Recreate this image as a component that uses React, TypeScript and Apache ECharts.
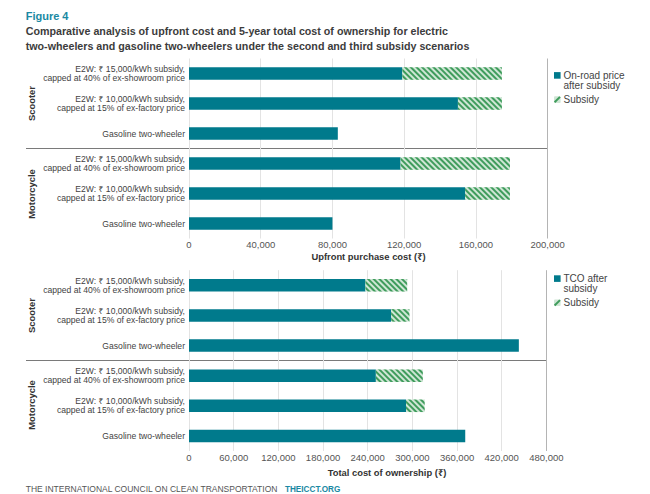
import React, { useEffect, useRef } from "react";
import * as echarts from "echarts";

const categoryLabels = [
  "E2W: ₹ 15,000/kWh subsidy,\ncapped at 40% of ex-showroom price",
  "E2W: ₹ 10,000/kWh subsidy,\ncapped at 15% of ex-factory price",
  "Gasoline two-wheeler",
  "E2W: ₹ 15,000/kWh subsidy,\ncapped at 40% of ex-showroom price",
  "E2W: ₹ 10,000/kWh subsidy,\ncapped at 15% of ex-factory price",
  "Gasoline two-wheeler",
];
const categoryKeys = ["s15", "s10", "sg", "m15", "m10", "mg"];
const groupLabels = ["Scooter", "Motorcycle"];

const upfrontAfter = [119000, 150000, 83000, 118000, 154000, 80000];
const upfrontSubsidy = [55500, 24500, 0, 61000, 25000, 0];
const tcoAfter = [237000, 271500, 443000, 251000, 291500, 371000];
const tcoSubsidy = [56000, 24500, 0, 63000, 25000, 0];

const upfrontTicks = { min: 0, max: 200000, interval: 40000 };
const tcoTicks = { min: 0, max: 480000, interval: 60000 };

const FONT = "'Liberation Sans', Arial, 'Noto Sans', 'DejaVu Sans', sans-serif";
const TEAL = "#007a8c";
const HATCH_BG = "#cfe6d5";
const HATCH_FG = "#3f9c5c";
const GRID_LIGHT = "#e3e3e3";
const GRID_DARK = "#b4b4b4";

const fmt = (v: number) => v.toLocaleString("en-US");

function splitColors(t: { min: number; max: number; interval: number }) {
  const n = Math.round((t.max - t.min) / t.interval) + 1;
  const arr: string[] = [];
  for (let i = 0; i < n; i++) arr.push(i === n - 1 ? GRID_DARK : GRID_LIGHT);
  return arr;
}

const hatchDecal = {
  symbol: "rect",
  symbolSize: 1,
  dashArrayX: [1, 0],
  dashArrayY: [1.2, 1.1],
  rotation: Math.PI / 4,
  color: HATCH_FG,
  backgroundColor: HATCH_BG,
};

export default function App() {
  const ref = useRef<HTMLDivElement>(null);
  useEffect(() => {
    document.body.style.margin = "0";
    const chart = echarts.init(ref.current!, null, { renderer: "svg" });

    const xAxisBase = (t: any, gridIndex: number) => ({
      type: "value",
      gridIndex,
      min: t.min,
      max: t.max,
      interval: t.interval,
      axisLine: { show: false },
      axisTick: { show: false },
      axisLabel: {
        margin: 1,
        fontSize: 9.5,
        color: "#555",
        fontFamily: FONT,
        formatter: (v: number) => fmt(v),
      },
      splitLine: { show: true, lineStyle: { color: splitColors(t), width: 1 } },
    });

    const yAxisBase = (gridIndex: number) => ({
      type: "category",
      gridIndex,
      inverse: true,
      data: categoryKeys,
      axisLine: { show: false },
      axisTick: { show: false },
      axisLabel: {
        margin: 4,
        fontSize: 8.6,
        lineHeight: 9,
        color: "#3f3f3f",
        fontFamily: FONT,
        align: "right",
        formatter: (_v: string, i: number) => categoryLabels[i],
      },
    });

    const textEl = (
      text: string,
      x: number,
      y: number,
      opts: any = {},
      extra: any = {}
    ) => ({
      type: "text",
      x,
      y,
      ...extra,
      style: {
        text,
        fontFamily: FONT,
        fontSize: 9,
        fill: "#333",
        align: "left",
        verticalAlign: "middle",
        ...opts,
      },
    });

    const legend = (label1: string, label2: string, y: number) => [
      { type: "rect", shape: { x: 554, y: y - 3.2, width: 6.6, height: 6.6 }, style: { fill: TEAL } },
      textEl(label1, 563.5, y, { fontSize: 10, fill: "#444" }),
      textEl(label2, 563.5, y + 9.8, { fontSize: 10, fill: "#444" }),
      {
        type: "rect",
        shape: { x: 554, y: y + 21, width: 6.6, height: 6.6, r: 1 },
        style: { fill: HATCH_BG },
      },
      {
        type: "line",
        shape: { x1: 554.6, y1: y + 27, x2: 560, y2: y + 21.6 },
        style: { stroke: HATCH_FG, lineWidth: 2 },
      },
      textEl("Subsidy", 563.5, y + 24.4, { fontSize: 10, fill: "#444" }),
    ];

    const option: any = {
      animation: false,
      grid: [
        { left: 189, top: 58.5, width: 358.6, height: 180 },
        { left: 189, top: 270.2, width: 357.4, height: 180.8 },
      ],
      xAxis: [xAxisBase(upfrontTicks, 0), xAxisBase(tcoTicks, 1)],
      yAxis: [yAxisBase(0), yAxisBase(1)],
      series: [
        {
          name: "On-road price after subsidy",
          type: "bar",
          xAxisIndex: 0,
          yAxisIndex: 0,
          stack: "upfront",
          barWidth: 12.5,
          data: upfrontAfter,
          itemStyle: { color: TEAL },
        },
        {
          name: "Subsidy",
          type: "bar",
          xAxisIndex: 0,
          yAxisIndex: 0,
          stack: "upfront",
          barWidth: 12.5,
          data: upfrontSubsidy,
          itemStyle: { color: HATCH_BG, decal: hatchDecal },
        },
        {
          name: "TCO after subsidy",
          type: "bar",
          xAxisIndex: 1,
          yAxisIndex: 1,
          stack: "tco",
          barWidth: 12.5,
          data: tcoAfter,
          itemStyle: { color: TEAL },
        },
        {
          name: "Subsidy ",
          type: "bar",
          xAxisIndex: 1,
          yAxisIndex: 1,
          stack: "tco",
          barWidth: 12.5,
          data: tcoSubsidy,
          itemStyle: { color: HATCH_BG, decal: hatchDecal },
        },
      ],
      graphic: [
        textEl("Figure 4", 25.7, 16, { fontSize: 11, fontWeight: "bold", fill: "#1a89a3" }),
        textEl(
          "Comparative analysis of upfront cost and 5-year total cost of ownership for electric",
          25.7,
          31,
          { fontSize: 10.7, fontWeight: "bold", fill: "#3c3c3c" }
        ),
        textEl(
          "two-wheelers and gasoline two-wheelers under the second and third subsidy scenarios",
          25.7,
          45.7,
          { fontSize: 10.7, fontWeight: "bold", fill: "#3c3c3c" }
        ),
        // group labels
        textEl(groupLabels[0], 31, 103.5, { fontSize: 9.4, fontWeight: "bold", align: "center" }, { rotation: Math.PI / 2 }),
        textEl(groupLabels[1], 31, 194, { fontSize: 9.4, fontWeight: "bold", align: "center" }, { rotation: Math.PI / 2 }),
        textEl(groupLabels[0], 31, 315.5, { fontSize: 9.4, fontWeight: "bold", align: "center" }, { rotation: Math.PI / 2 }),
        textEl(groupLabels[1], 31, 405, { fontSize: 9.4, fontWeight: "bold", align: "center" }, { rotation: Math.PI / 2 }),
        // separators
        { type: "line", shape: { x1: 26, y1: 148.5, x2: 547.7, y2: 148.5 }, style: { stroke: "#7a7a7a", lineWidth: 1.2 } },
        { type: "line", shape: { x1: 26, y1: 360.5, x2: 546.4, y2: 360.5 }, style: { stroke: "#7a7a7a", lineWidth: 1.2 } },
        // axis titles
        textEl("Upfront purchase cost (₹)", 368.5, 256, { fontSize: 9.4, fontWeight: "bold", align: "center", fill: "#333" }),
        textEl("Total cost of ownership (₹)", 387, 472.3, { fontSize: 9.4, fontWeight: "bold", align: "center", fill: "#333" }),
        // legends
        ...legend("On-road price", "after subsidy", 75.3),
        ...legend("TCO after", "subsidy", 278.5),
        // footer
        textEl("THE INTERNATIONAL COUNCIL ON CLEAN TRANSPORTATION", 25.7, 489, { fontSize: 8.5, fill: "#555" }),
        textEl("THEICCT.ORG", 284.9, 489, { fontSize: 8.2, fontWeight: "bold", fill: "#1a89a3" }),
      ],
    };
    chart.setOption(option);
    return () => chart.dispose();
  }, []);
  return (
    <div
      ref={ref}
      style={{ position: "absolute", left: 0, top: 0, width: 650, height: 494, background: "#fff" }}
    />
  );
}
